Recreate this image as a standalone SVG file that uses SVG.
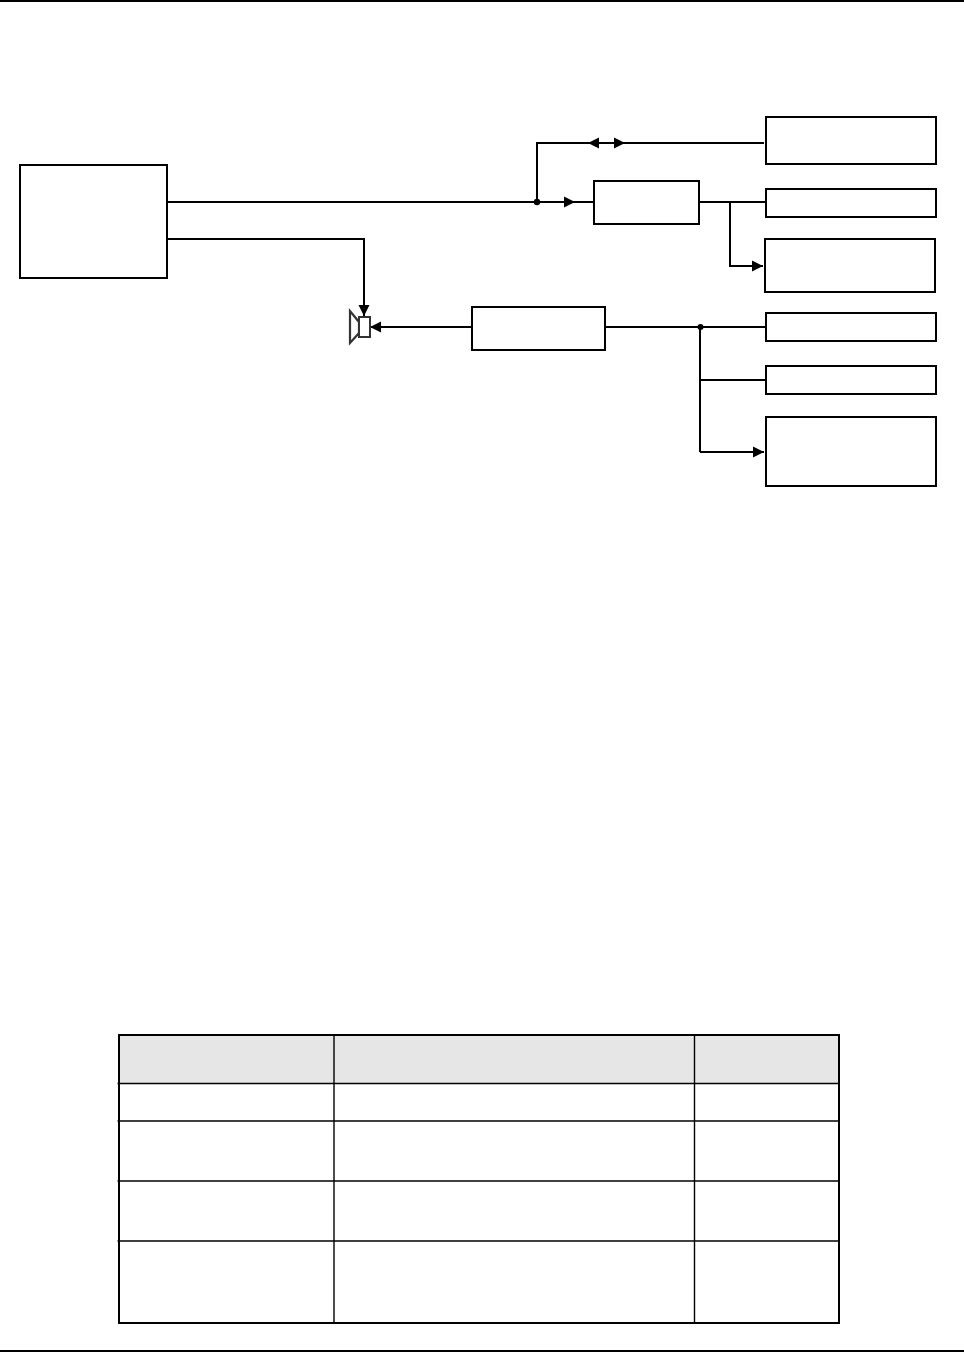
<svg xmlns="http://www.w3.org/2000/svg" width="964" height="1352" viewBox="0 0 964 1352">
  <style>
    .box { fill: #fff; stroke: #000; stroke-width: 2; }
    .wire { fill: none; stroke: #000; stroke-width: 2; }
    .arrow { fill: none; stroke: #000; stroke-width: 2; marker-end: url(#head); }
    .dot { fill: #000; }
    .thin { stroke: #000; stroke-width: 1.4; }
  </style>
  <defs>
    <marker id="head" markerUnits="userSpaceOnUse" markerWidth="12" markerHeight="12" refX="11" refY="6" orient="auto">
      <path d="M0 0.500L11 6L0 11.500Z" fill="#000"/>
    </marker>
  </defs>
  <rect width="964" height="1352" fill="#fff"/>
  <rect id="page-rule-top" x="0" y="0" width="964" height="2" fill="#000"/>
  <rect id="page-rule-bottom" x="0" y="1350" width="964" height="2" fill="#000"/>

  <g id="connectors">
    <path class="wire" d="M167 202H537"/>
    <path class="wire" d="M537 202V143H598"/>
    <path class="arrow" d="M610 143H588"/>
    <path class="arrow" d="M598 143H625"/>
    <path class="wire" d="M624 143H764"/>
    <path class="arrow" d="M537 202H575"/>
    <path class="wire" d="M574 202H594"/>
    <path class="wire" d="M699 202H766"/>
    <path class="arrow" d="M730 202V266H763"/>
    <path class="arrow" d="M167 239H364V316"/>
    <path class="arrow" d="M472 327H370"/>
    <path class="wire" d="M605 327H766"/>
    <path class="wire" d="M700 327V452"/>
    <path class="wire" d="M700 380H766"/>
    <path class="arrow" d="M700 452H764"/>
    <circle class="dot" cx="537" cy="202" r="3.200"/>
    <circle class="dot" cx="700.500" cy="327" r="3"/>
  </g>

  <g id="node-source"><rect class="box" x="20" y="165" width="147" height="113"/></g>
  <g id="node-splitter"><rect class="box" x="594" y="181" width="105" height="43"/></g>
  <g id="node-amplifier"><rect class="box" x="472" y="307" width="133" height="43"/></g>
  <g id="node-out-1"><rect class="box" x="766" y="117" width="170" height="47"/></g>
  <g id="node-out-2"><rect class="box" x="766" y="189" width="170" height="28"/></g>
  <g id="node-out-3"><rect class="box" x="765" y="239" width="170" height="53"/></g>
  <g id="node-out-4"><rect class="box" x="766" y="313" width="170" height="28"/></g>
  <g id="node-out-5"><rect class="box" x="766" y="366" width="170" height="28"/></g>
  <g id="node-out-6"><rect class="box" x="766" y="417" width="170" height="69"/></g>

  <g id="node-speaker">
    <path d="M359 322L350 311V343L359 333Z" fill="#fff" stroke="#333" stroke-width="2.200"/>
    <rect x="359" y="317" width="11" height="20" fill="#fff" stroke="#333" stroke-width="2"/>
  </g>

  <g id="table">
    <rect x="119" y="1036" width="720" height="47" fill="#e6e6e6"/>
    <line class="thin" x1="117.500" y1="1083.500" x2="839" y2="1083.500"/>
    <line class="thin" x1="117.500" y1="1121" x2="839" y2="1121"/>
    <line class="thin" x1="117.500" y1="1181" x2="839" y2="1181"/>
    <line class="thin" x1="117.500" y1="1241" x2="839" y2="1241"/>
    <line class="thin" x1="334" y1="1035" x2="334" y2="1323"/>
    <line class="thin" x1="694.500" y1="1035" x2="694.500" y2="1323"/>
    <rect x="119" y="1035" width="720" height="288" fill="none" stroke="#000" stroke-width="2"/>
  </g>
</svg>
